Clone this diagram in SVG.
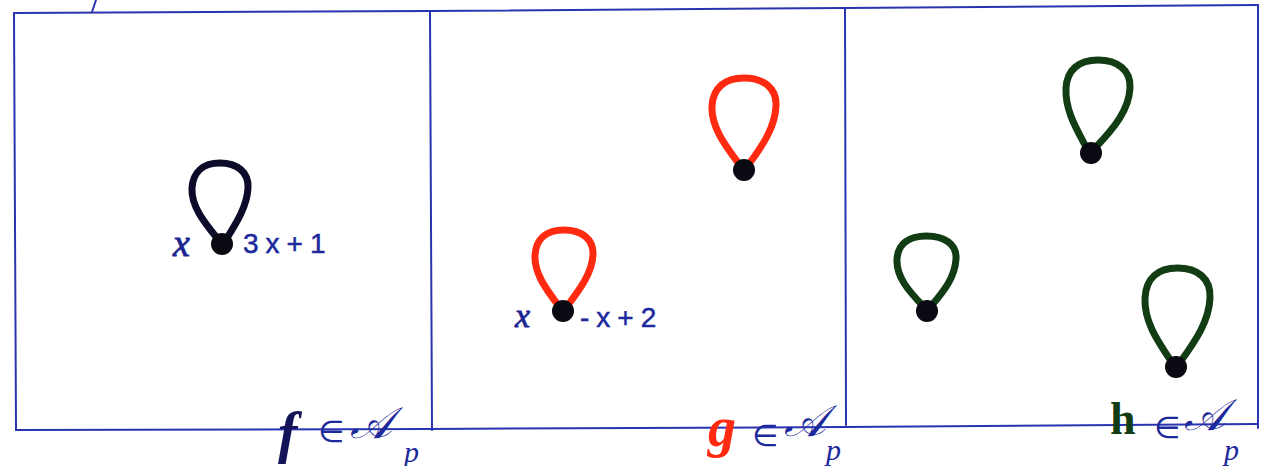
<svg xmlns="http://www.w3.org/2000/svg" width="1272" height="466" viewBox="0 0 1272 466">
<style>
.frame{fill:none;stroke:#2a34b0;stroke-width:2;stroke-linecap:round}
.loop{fill:none;stroke-width:7;stroke-linecap:round;stroke-linejoin:round}
.blk{stroke:#0c0c2a}
.red{stroke:#ff2a10}
.grn{stroke:#123c14}
.dot{fill:#0a0a12}
.lbl{font-family:"Liberation Serif",serif;font-style:italic;fill:#1c2490;stroke:#1c2490;stroke-width:0.8}
.poly{font-family:"Liberation Sans",sans-serif;fill:#1c2a9c;font-size:28px;letter-spacing:7px;stroke:#1c2a9c;stroke-width:0.5}
.in{font-family:"DejaVu Sans",sans-serif;fill:#1c2a9c;font-size:30px}
.alg{font-family:"Liberation Serif",serif;font-style:italic;fill:#1c2a9c;font-size:44px}
.sub{font-family:"Liberation Serif",serif;font-style:italic;fill:#1c2a9c;font-size:30px}
</style>
<rect width="1272" height="466" fill="#ffffff"/>
<g id="frame">
<path class="frame" d="M14 13 L430 11 L845 8 L1258 5"/>
<path class="frame" d="M14 13 L16 430"/>
<path class="frame" d="M430 11 L432 430"/>
<path class="frame" d="M845 8 L846 425"/>
<path class="frame" d="M1258 5 L1258 428"/>
<path class="frame" d="M16 430 L430 429 L845 427 L1258 424"/>
<path class="frame" d="M92 12 L96 0"/>
</g>
<g id="panel-f">
<g id="loop-f" transform="translate(222,244)">
<path class="loop blk" d="M -5,-6 C -18,-22 -31,-38 -30,-56 C -29,-72 -18.8,-81 -2,-81 C 14.8,-81 27,-72 26,-56 C 25,-38 15,-22 5,-6"/>
<circle class="dot" r="11"/>
</g>
<text class="lbl" x="173" y="256" font-size="38">x</text>
<text class="poly" x="243" y="253">3x+1</text>
<text x="278" y="452" font-family="Liberation Serif,serif" font-style="italic" font-weight="bold" font-size="58" fill="#14145a">f</text>
<text class="in" x="318" y="442">∈</text>
<text class="alg" x="350" y="438">𝒜</text>
<text class="sub" x="404" y="462">p</text>
</g>
<g id="panel-g">
<g id="loop-g1" transform="translate(563,311)">
<path class="loop red" d="M -5,-6 C -17,-22 -29,-38 -28,-56 C -27,-72 -16.4,-81 1,-81 C 18.4,-81 31,-72 30,-56 C 29,-38 17,-22 5,-6"/>
<circle class="dot" r="11"/>
</g>
<g id="loop-g2" transform="translate(744,170)">
<path class="loop red" d="M -5,-6 C -19,-25 -33,-43 -32,-64 C -31,-82 -19.2,-92 0,-92 C 19.2,-92 33,-82 32,-64 C 31,-43 19,-25 5,-6"/>
<circle class="dot" r="11"/>
</g>
<text class="lbl" x="515" y="327" font-size="34">x</text>
<text class="poly" x="580" y="327">-x+2</text>
<text x="708" y="446" font-family="Liberation Serif,serif" font-style="italic" font-weight="bold" font-size="56" fill="#ff2a10">g</text>
<text class="in" x="752" y="446">∈</text>
<text class="alg" x="784" y="436">𝒜</text>
<text class="sub" x="826" y="460">p</text>
</g>
<g id="panel-h">
<g id="loop-h1" transform="translate(927,311)">
<path class="loop grn" d="M -5,-6 C -18,-20 -31,-34 -30,-52 C -29,-67 -18.2,-75 -0.5,-75 C 17.2,-75 30,-67 29,-52 C 28,-34 17,-20 5,-6"/>
<circle class="dot" r="11"/>
</g>
<g id="loop-h2" transform="translate(1091,153)">
<path class="loop grn" d="M -5,-6 C -15,-25 -26,-43 -25,-65 C -24,-83 -12.2,-93 7,-93 C 26.2,-93 40,-83 39,-65 C 38,-43 23,-25 5,-6"/>
<circle class="dot" r="11"/>
</g>
<g id="loop-h3" transform="translate(1176,367)">
<path class="loop grn" d="M -5,-6 C -19,-27 -32,-46 -31,-69 C -30,-89 -18,-99 1.5,-99 C 21,-99 35,-89 34,-69 C 33,-46 20,-27 5,-6"/>
<circle class="dot" r="11"/>
</g>
<text x="1110" y="434" font-family="Liberation Serif,serif" font-weight="bold" font-size="46" fill="#123c14">h</text>
<text class="in" x="1154" y="438">∈</text>
<text class="alg" x="1184" y="430">𝒜</text>
<text class="sub" x="1224" y="460">p</text>
</g>
</svg>
